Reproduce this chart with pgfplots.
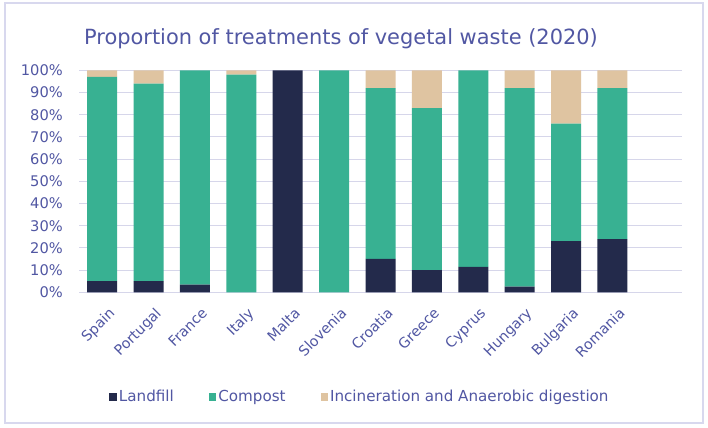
\documentclass[border=0pt]{standalone}
\usepackage{pgfplots}
\pgfplotsset{compat=1.18}
\usepackage{fontspec}
\setmainfont{DejaVu Sans}
\definecolor{landfill}{HTML}{232A4B}
\definecolor{compost}{HTML}{38B192}
\definecolor{incin}{HTML}{DFC4A1}
\definecolor{txt}{HTML}{5157A3}
\definecolor{gridc}{HTML}{D6D6EA}
\definecolor{framec}{HTML}{D8D8EE}
\begin{document}
\begin{tikzpicture}
\useasboundingbox (0bp,0bp) rectangle (708bp,428bp);
\fill[white] (0bp,0bp) rectangle (708bp,428bp);
\draw[framec, line width=1.2bp] (5bp,5bp) rectangle (703bp,425bp);
\node[text=txt, font=\fontsize{21}{24}\selectfont] at (341bp,389bp) {Proportion of treatments of vegetal waste (2020)};
\begin{axis}[
  at={(79bp,135.7bp)}, anchor=south west,
  scale only axis, width=603bp, height=222bp,
  ybar stacked, bar width=30bp,
  xmin=-0.5, xmax=12.5, ymin=0, ymax=100,
  xtick={0,...,11},
  xticklabels={Spain,Portugal,France,Italy,Malta,Slovenia,Croatia,Greece,Cyprus,Hungary,Bulgaria,Romania},
  xticklabel style={rotate=45, anchor=north east, text=txt, font=\fontsize{14.3}{16}\selectfont, inner sep=0pt, xshift=-6bp, yshift=-14bp},
  ytick={0,10,...,100},
  yticklabel={\pgfmathprintnumber{\tick}\%},
  yticklabel style={text=txt, font=\fontsize{14.7}{17}\selectfont, anchor=east, inner sep=0pt, xshift=-16bp},
  /pgf/number format/assume math mode=true,
  ymajorgrids, major grid style={gridc, line width=1bp},
  axis line style={draw=none},
  major tick length=0pt,
  legend style={at={(0.466,-0.47)}, anchor=center, draw=none, fill=none, legend columns=-1,
    font=\fontsize{15.2}{17}\selectfont, text=txt,
    /tikz/every even column/.append style={column sep=33bp}},
  legend image code/.code={\fill[#1] (0bp,-4bp) rectangle (7.5bp,4bp);},
]
\addplot[fill=landfill, draw=none] coordinates {(0,5) (1,5) (2,3.5) (3,0) (4,100) (5,0) (6,15) (7,10) (8,11.5) (9,2.5) (10,23) (11,24)};
\addplot[fill=compost, draw=none] coordinates {(0,92) (1,89) (2,96.5) (3,98) (4,0) (5,100) (6,77) (7,73) (8,88.5) (9,89.5) (10,53) (11,68)};
\addplot[fill=incin, draw=none] coordinates {(0,3) (1,6) (2,0) (3,2) (4,0) (5,0) (6,8) (7,17) (8,0) (9,8) (10,24) (11,8)};
\legend{Landfill,Compost,Incineration and Anaerobic digestion}
\end{axis}
\end{tikzpicture}
\end{document}
